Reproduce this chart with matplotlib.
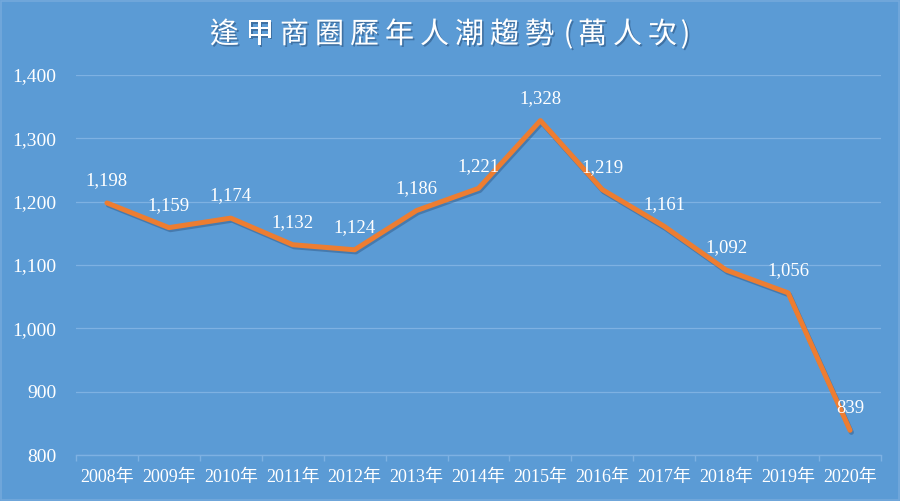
import matplotlib
matplotlib.use("Agg")
import matplotlib.pyplot as plt
import matplotlib.patheffects as pe
from matplotlib.ticker import FuncFormatter, FixedLocator

years = ["2008年", "2009年", "2010年", "2011年", "2012年", "2013年", "2014年",
         "2015年", "2016年", "2017年", "2018年", "2019年", "2020年"]
visitors = [1198, 1159, 1174, 1132, 1124, 1186, 1221, 1328, 1219, 1161, 1092, 1056, 839]
title_chars = list("逢甲商圈歷年人潮趨勢(萬人次)")

bg = "#5B9BD5"
grid_c = "#7EB1E2"
line_c = "#ED7D31"
serif = ["Liberation Serif", "Noto Sans CJK TC"]

fig = plt.figure(figsize=(9, 5.01), dpi=100, facecolor=bg)
ax = fig.add_axes([76/900, 46/501, 805/900, 380/501], facecolor=bg)

x = list(range(len(years)))
ax.plot(x, visitors, color=line_c, lw=3.6, solid_capstyle="round", zorder=3,
        path_effects=[pe.SimpleLineShadow(offset=(1, -1.5), alpha=0.35, shadow_color="#1f3f66"),
                      pe.Normal()])

for xi, v in zip(x, visitors):
    ax.annotate(f"{v:,}", (xi, v), xytext=(0, 16), textcoords="offset points",
                ha="center", va="center", color="white", fontsize=13.5,
                family=serif, zorder=4)

ax.set_xlim(-0.5, len(years) - 0.5)
ax.set_ylim(800, 1400)
ax.set_yticks(range(800, 1401, 100))
ax.yaxis.set_major_formatter(FuncFormatter(lambda v, p: f"{int(v):,}"))
ax.set_xticks(x)
ax.set_xticklabels(years)
ax.xaxis.set_minor_locator(FixedLocator([i - 0.5 for i in range(len(years) + 1)]))

ax.grid(axis="y", color=grid_c, lw=0.9)
ax.set_axisbelow(True)
for s in ["top", "right", "left"]:
    ax.spines[s].set_visible(False)
ax.spines["bottom"].set_color(grid_c)
ax.spines["bottom"].set_linewidth(1.0)

ax.tick_params(axis="y", length=0, pad=14, labelsize=14, labelcolor="white")
ax.tick_params(axis="x", which="major", length=0, pad=10, labelsize=13, labelcolor="white")
ax.tick_params(axis="x", which="minor", length=4, color=grid_c, width=1.0)
for lab in ax.get_xticklabels() + ax.get_yticklabels():
    lab.set_family(serif)

# title, spaced out character by character (tighter around the brackets)
def advance(a, b):
    if b == "(":
        return 29
    if a == "(":
        return 24
    if b == ")":
        return 23
    return 35

offs = [0]
for a, b in zip(title_chars[:-1], title_chars[1:]):
    offs.append(offs[-1] + advance(a, b))
mid = (offs[0] + offs[-1]) / 2
for ch, o in zip(title_chars, offs):
    fig.text(0.5 + (o - mid + 5) / 900, 1 - 35 / 501, ch, ha="center", va="center",
             color="white", fontsize=21, family=["Noto Sans CJK TC", "DejaVu Sans"],
             path_effects=[pe.withSimplePatchShadow(offset=(1.2, -1.2), alpha=0.45,
                                                    shadow_rgbFace="#1f3f66")])

fig.patches.append(plt.Rectangle((0.001, 0.001), 0.998, 0.997, transform=fig.transFigure,
                                 fill=False, edgecolor="#74A9DC", lw=1.2))

fig.savefig("out.png", dpi=100, facecolor=bg)
